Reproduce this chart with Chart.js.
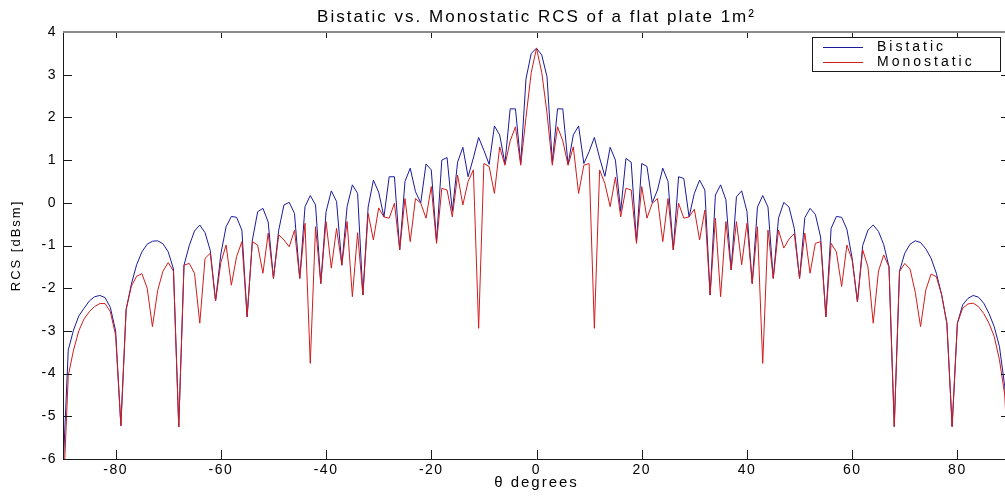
<!DOCTYPE html>
<html>
<head>
<meta charset="utf-8">
<title>Bistatic vs. Monostatic RCS</title>
<script src="https://cdn.jsdelivr.net/npm/chart.js@4.4.1/dist/chart.umd.min.js"></script>
<style>
  html, body { margin: 0; padding: 0; background: #fff; overflow: hidden; }
  #wrap { position: relative; width: 1073px; height: 497px; }
</style>
</head>
<body>
<div id="wrap"><canvas id="rcs"></canvas></div>
<script>
// sample grid: -90 .. 90 degrees, 1 degree apart
const theta = Array.from({ length: 181 }, (_, i) => i - 90);

// RCS values in dBsm
const bistatic = [
  -6.3, -3.45, -2.98, -2.65, -2.47, -2.3, -2.2, -2.17, -2.22, -2.45,   // -90 .. -81
  -3.0, -5.22, -2.5, -1.9, -1.45, -1.15, -0.97, -0.9, -0.89, -0.96,    // -80 .. -71
  -1.15, -1.55, -5.25, -1.46, -1.0, -0.66, -0.52, -0.7, -1.12, -2.3,   // -70 .. -61
  -1.2, -0.56, -0.32, -0.34, -0.64, -2.67, -0.87, -0.21, -0.13, -0.45, // -60 .. -51
  -1.77, -0.64, -0.05, 0.01, -0.25, -1.77, -0.09, 0.17, -0.05, -1.89,  // -50 .. -41
  -0.21, 0.28, 0.03, -1.46, -0.09, 0.42, 0.22, -2.16, -0.1, 0.53,      // -40 .. -31
  0.25, -0.33, 0.61, 0.61, -1.1, 0.5, 0.81, 0.26, 0.0, 0.91,           // -30 .. -21
  0.77, -0.9, 1.0, 1.06, -0.2, 0.95, 1.3, 0.61, 1.05, 1.53,            // -20 .. -11
  1.23, 0.9, 1.8, 1.59, 0.92, 2.2, 2.2, 0.92, 2.9, 3.5,                // -10 .. -1
  3.62,                                                                //   0
  3.46, 2.95, 0.95, 2.2, 2.2, 0.9, 1.59, 1.8, 0.92, 1.2,               //   1 .. 10
  1.53, 1.05, 0.62, 1.3, 1.0, -0.2, 1.04, 0.95, -0.9, 0.92,            //  11 .. 20
  0.85, 0.0, 0.3, 0.81, 0.5, -1.1, 0.61, 0.57, -0.33, 0.22,            //  21 .. 30
  0.53, 0.3, -2.16, 0.18, 0.42, 0.07, -1.57, 0.14, 0.28, -0.2,         //  31 .. 40
  -1.89, -0.1, 0.17, -0.1, -1.77, -0.36, 0.01, -0.1, -0.6, -1.77,      //  41 .. 50
  -0.35, -0.13, -0.27, -0.8, -2.67, -0.6, -0.32, -0.34, -0.62, -1.3,   //  51 .. 60
  -2.32, -1.0, -0.64, -0.52, -0.67, -0.98, -1.5, -5.24, -1.6, -1.18,   //  61 .. 70
  -0.97, -0.89, -0.93, -1.08, -1.3, -1.65, -2.15, -2.82, -5.24, -2.82, //  71 .. 80
  -2.39, -2.24, -2.17, -2.21, -2.35, -2.59, -2.9, -3.37, -4.3, -6.3    //  81 .. 90
];

const monostatic = [
  -7.0, -4.05, -3.45, -3.0, -2.72, -2.55, -2.43, -2.36, -2.36, -2.55,  // -90 .. -81
  -3.1, -5.22, -2.5, -1.95, -1.72, -1.66, -2.0, -2.9, -2.05, -1.6,     // -80 .. -71
  -1.4, -1.6, -5.25, -1.46, -1.42, -1.65, -2.82, -1.3, -1.18, -2.3,    // -70 .. -61
  -1.4, -0.99, -1.93, -1.26, -0.91, -2.67, -0.91, -0.99, -1.65, -0.71, // -60 .. -51
  -1.77, -0.75, -0.87, -1.03, -0.64, -1.77, -0.48, -3.76, -0.56, -1.89,// -50 .. -41
  -0.44, -1.53, -0.6, -1.46, -0.44, -2.2, -0.7, -2.16, -0.25, -0.87,   // -40 .. -31
  -0.12, -0.33, -0.36, -0.01, -1.1, 0.1, -0.91, 0.1, -0.01, -0.36,     // -30 .. -21
  0.38, -0.95, 0.34, 0.3, -0.33, 0.65, -0.05, 0.5, 0.77, -2.94,        // -20 .. -11
  0.92, 0.85, 0.22, 1.31, 0.88, 1.45, 1.78, 0.88, 2.0, 3.05,           // -10 .. -1
  3.62,                                                                //   0
  3.05, 2.1, 0.88, 1.78, 1.45, 0.88, 1.31, 0.22, 0.88, 0.92,           //   1 .. 10
  -2.94, 0.77, 0.45, -0.09, 0.6, -0.33, 0.34, 0.3, -0.95, 0.38,        //  11 .. 20
  -0.36, -0.01, 0.1, -0.91, 0.1, -1.1, -0.01, -0.36, -0.33, -0.15,     //  21 .. 30
  -0.87, -0.17, -2.16, -0.36, -2.2, -0.44, -1.57, -0.44, -1.45, -0.48, //  31 .. 40
  -1.89, -0.56, -3.76, -0.64, -1.77, -0.64, -1.06, -0.85, -0.72, -1.77,//  41 .. 50
  -0.71, -1.65, -0.95, -0.91, -2.67, -0.95, -1.15, -1.96, -0.99, -1.34,//  51 .. 60
  -2.32, -1.1, -1.5, -2.82, -1.6, -1.22, -1.5, -5.24, -1.61, -1.42,    //  61 .. 70
  -1.55, -2.1, -2.9, -2.04, -1.67, -1.73, -2.15, -2.82, -5.24, -2.82,  //  71 .. 80
  -2.47, -2.37, -2.35, -2.43, -2.59, -2.82, -3.13, -3.68, -4.5, -7.0   //  81 .. 90
];

const xTicks = [-80, -60, -40, -20, 0, 20, 40, 60, 80];
const seriesNames = ['Bistatic', 'Monostatic'];
const seriesColors = ['#1a1a9c', '#d01c1c'];

const FONT = "'Liberation Sans', Arial, Helvetica, sans-serif";

// matlab style box, inward ticks and boxed legend
const matlabFrame = {
  id: 'matlabFrame',
  beforeDraw(chart) {
    chart.ctx.letterSpacing = '2px';
  },
  afterDatasetsDraw(chart) {
    const { ctx, chartArea: a, scales: { x, y } } = chart;
    ctx.save();
    ctx.strokeStyle = '#1a1a1a';
    ctx.lineWidth = 1;
    ctx.beginPath();
    x.ticks.forEach(t => {
      const px = Math.round(x.getPixelForValue(t.value)) + 0.5;
      ctx.moveTo(px, a.bottom);
      ctx.lineTo(px, a.bottom - 9);
      ctx.moveTo(px, a.top);
      ctx.lineTo(px, a.top + 6);
    });
    y.ticks.forEach(t => {
      const py = Math.round(y.getPixelForValue(t.value)) + 0.5;
      ctx.moveTo(a.left, py);
      ctx.lineTo(a.left + 9, py);
      ctx.moveTo(a.right, py);
      ctx.lineTo(a.right - 9, py);
    });
    ctx.moveTo(a.left + 0.5, a.top);
    ctx.lineTo(a.left + 0.5, a.bottom);
    ctx.moveTo(a.left, a.bottom + 0.5);
    ctx.lineTo(a.right, a.bottom + 0.5);
    ctx.moveTo(a.right - 0.5, a.top);
    ctx.lineTo(a.right - 0.5, a.bottom);
    ctx.stroke();
    ctx.strokeStyle = '#8a8a8a';
    ctx.lineWidth = 2;
    ctx.beginPath();
    ctx.moveTo(a.left, a.top);
    ctx.lineTo(a.right, a.top);
    ctx.stroke();
    ctx.restore();
    // tick labels are drawn after this hook (ticks.z = 1)
    ctx.letterSpacing = '1.5px';
  },
  afterDraw(chart) {
    const { ctx, chartArea: a } = chart;
    const w = 188, h = 34;
    const left = a.right - 198, top = a.top + 5;
    ctx.save();
    ctx.fillStyle = '#fff';
    ctx.fillRect(left, top, w, h);
    ctx.strokeStyle = '#1a1a1a';
    ctx.lineWidth = 1;
    ctx.strokeRect(left + 0.5, top + 0.5, w, h);
    ctx.letterSpacing = '3px';
    ctx.font = '14px ' + FONT;
    ctx.textBaseline = 'middle';
    ctx.textAlign = 'left';
    chart.data.datasets.forEach((ds, i) => {
      const ly = Math.round(top + 10 + i * 14.5) + 0.5;
      ctx.strokeStyle = ds.borderColor;
      ctx.beginPath();
      ctx.moveTo(left + 11, ly);
      ctx.lineTo(left + 51, ly);
      ctx.stroke();
      ctx.fillStyle = '#000';
      ctx.fillText(ds.label, left + 65, ly);
    });
    ctx.restore();
  }
};

new Chart(document.getElementById('rcs'), {
  type: 'line',
  data: {
    datasets: [
      {
        label: seriesNames[0],
        data: theta.map((t, i) => ({ x: t, y: bistatic[i] })),
        borderColor: seriesColors[0],
        borderWidth: 1,
        pointRadius: 0,
        tension: 0,
        order: 1
      },
      {
        label: seriesNames[1],
        data: theta.map((t, i) => ({ x: t, y: monostatic[i] })),
        borderColor: seriesColors[1],
        borderWidth: 1,
        pointRadius: 0,
        tension: 0,
        order: 0
      }
    ]
  },
  options: {
    responsive: true,
    maintainAspectRatio: false,
    animation: false,
    events: [],
    layout: { padding: 0 },
    plugins: {
      legend: { display: false },
      tooltip: { enabled: false },
      title: {
        display: true,
        text: 'Bistatic vs. Monostatic RCS of a flat plate 1m\u00B2',
        color: '#000',
        font: { family: FONT, size: 17, weight: 'normal' },
        padding: { top: 7, bottom: 4.6 }
      }
    },
    scales: {
      x: {
        type: 'linear',
        min: -90,
        max: 90,
        grid: { display: false, drawTicks: false },
        border: { display: false },
        afterBuildTicks(s) { s.ticks = xTicks.map(v => ({ value: v })); },
        ticks: {
          maxRotation: 0,
          autoSkip: false,
          padding: 3,
          color: '#000',
          font: { family: FONT, size: 14 },
          z: 1
        },
        title: {
          display: true,
          text: '\u03B8 degrees',
          color: '#000',
          font: { family: FONT, size: 15 },
          padding: { top: 0, bottom: 5 }
        },
        afterFit(s) { s.height = 38; }
      },
      y: {
        min: -6,
        max: 4,
        grid: { display: false, drawTicks: false },
        border: { display: false },
        ticks: {
          stepSize: 1,
          padding: 6,
          color: '#000',
          font: { family: FONT, size: 14 },
          z: 1
        },
        title: {
          display: true,
          text: 'RCS [dBsm]',
          color: '#000',
          font: { family: FONT, size: 13 },
          padding: { top: 9, bottom: 0 }
        },
        afterFit(s) { s.width = 63; }
      },
      // empty right-hand axis so the box runs past the window edge like the original
      y2: {
        position: 'right',
        min: -6,
        max: 4,
        grid: { display: false, drawTicks: false },
        border: { display: false },
        ticks: { display: false },
        afterFit(s) { s.width = 63; }
      }
    }
  },
  plugins: [matlabFrame]
});
</script>
</body>
</html>
